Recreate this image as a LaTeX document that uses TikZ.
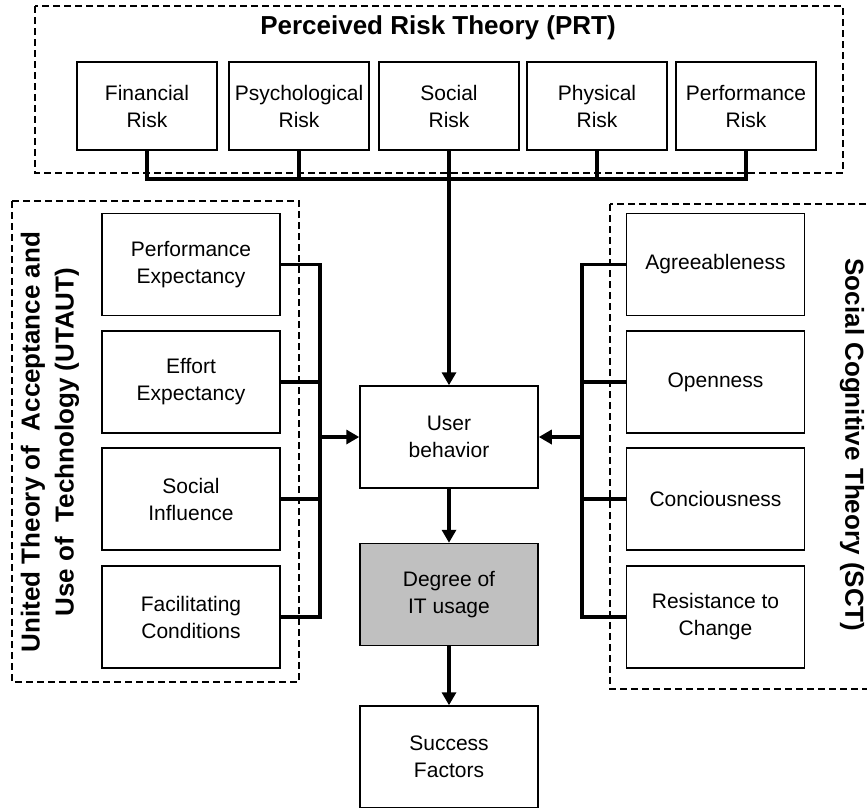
\documentclass[tikz,border=0pt]{standalone}
\usepackage{fontspec}
\setmainfont{Liberation Sans}
\usetikzlibrary{arrows.meta}

\begin{document}
\begin{tikzpicture}[x=1pt,y=-1pt,
  box/.style={draw,line width=1.5pt,inner sep=0pt,align=center,
    minimum width=140pt,minimum height=88pt,
    font=\fontsize{21}{27}\selectfont},
  side/.style={box,minimum width=178pt,minimum height=102pt},
  frame/.style={draw,line width=2pt,dash pattern=on 7pt off 4pt},
  title/.style={align=center,font=\fontsize{26}{34}\bfseries\selectfont},
  link/.style={line width=3.5pt},
  arr/.style={link,-{Triangle[length=13pt,width=14pt]}}]
	\path[use as bounding box] (0,0) rectangle (867,807);
	\clip (0,0) rectangle (867,807);

	% dashed frames
	\draw[frame] (35,6) rectangle (843,173);
	\draw[frame] (12,201) rectangle (299,682);
	\draw[frame] (610,204) rectangle (880,689);

	\node[title] (prt) at (438,28) {Perceived Risk Theory (PRT)};
	\node[title,rotate=90] (utaut) at (50,442)
		{United Theory of\ \ Acceptance and\\Use of\ \ Technology (UTAUT)};
	\node[title,rotate=-90] (sct) at (852,445) {Social Cognitive Theory (SCT)};

	% perceived risk
	\node[box] (fin) at (147,106) {Financial\\Risk};
	\node[box] (psy) at (299,106) {Psychological\\Risk};
	\node[box] (soc) at (449,106) {Social\\Risk};
	\node[box] (phy) at (597,106) {Physical\\Risk};
	\node[box] (perf) at (746,106) {Performance\\Risk};

	% utaut
	\node[side] (pe) at (191,264.5) {Performance\\Expectancy};
	\node[side] (ee) at (191,382) {Effort\\Expectancy};
	\node[side] (si) at (191,499) {Social\\Influence};
	\node[side] (fc) at (191,617) {Facilitating\\Conditions};

	% sct
	\node[side] (agr) at (715.5,264.5) {Agreeableness};
	\node[side] (ope) at (715.5,382) {Openness};
	\node[side] (con) at (715.5,499) {Conciousness};
	\node[side] (res) at (715.5,617) {Resistance to\\Change};

	% centre
	\node[side] (user) at (449,437) {User\\behavior};
	\node[side,fill={rgb,255:red,192;green,192;blue,192}] (deg) at (449,594.5) {Degree of\\IT usage};
	\node[side] (succ) at (449,757) {Success\\Factors};

	\coordinate (bus) at (449,179);
	\coordinate (lbar) at (320,437);
	\coordinate (rbar) at (582,437);

	\draw[link] (fin.south) |- (bus) -| (perf.south);
	\foreach \n in {psy,phy}
		\draw[link] (\n.south) -- (\n.south |- bus);
	\draw[arr] (soc.south) -- (user.north);

	\draw[link] (pe.east) -- (pe.east -| lbar) -- (fc.east -| lbar) -- (fc.east);
	\foreach \n in {ee,si}
		\draw[link] (\n.east) -- (\n.east -| lbar);
	\draw[arr] (lbar) -- (user.west);

	\draw[link] (agr.west) -- (agr.west -| rbar) -- (res.west -| rbar) -- (res.west);
	\foreach \n in {ope,con}
		\draw[link] (\n.west) -- (\n.west -| rbar);
	\draw[arr] (rbar) -- (user.east);

	\draw[arr] (user.south) -- (deg.north);
	\draw[arr] (deg.south) -- (succ.north);
\end{tikzpicture}
\end{document}
